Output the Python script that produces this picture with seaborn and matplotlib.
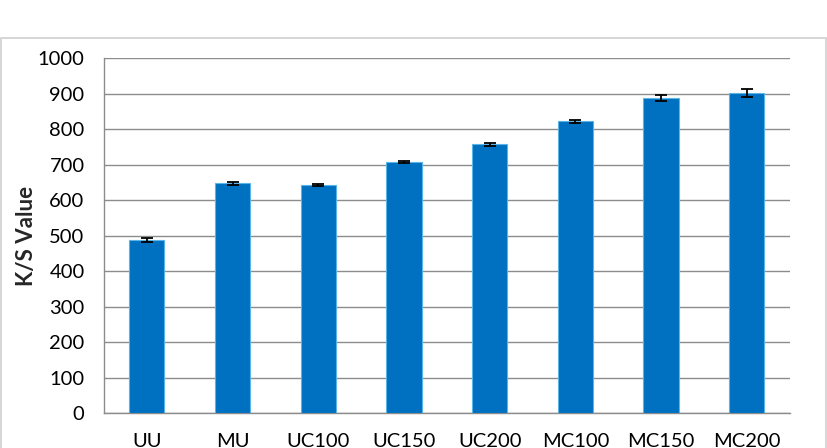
import matplotlib
matplotlib.use("Agg")
import matplotlib.pyplot as plt
import seaborn as sns
import pandas as pd
from matplotlib.patches import Rectangle

categories = ["UU", "MU", "UC100", "UC150", "UC200", "MC100", "MC150", "MC200"]
values = [487, 647, 643, 708, 757, 822, 888, 901]
errors = [6, 4, 3, 3, 4, 4, 9, 12]
yticks = [0, 100, 200, 300, 400, 500, 600, 700, 800, 900, 1000]

sns.set_theme(style="white")
plt.rcParams['font.family'] = ['Lato', 'DejaVu Sans']

df = pd.DataFrame({"cat": categories, "val": values})

fig = plt.figure(figsize=(8.28, 4.48), dpi=100)
fig.patches.append(Rectangle((0.001, -0.05), 0.996, 0.965, transform=fig.transFigure,
                             fill=False, edgecolor="#d0d0d0", linewidth=1.2))
ax = fig.add_axes([0.1256, 0.078, 0.828, 0.7925])

sns.barplot(data=df, x="cat", y="val", color="#0070C0", saturation=1, width=0.41,
            edgecolor="#5bb4e8", linewidth=0.8, errorbar=None, ax=ax, zorder=3)
ax.errorbar(x=list(range(len(categories))), y=values, yerr=errors, fmt="none",
            ecolor="black", elinewidth=1.3, capsize=4, capthick=1.3, zorder=4)

ax.set_ylim(0, 1000)
ax.set_yticks(yticks)
ax.set_xlim(-0.5, len(categories) - 0.5)
ax.yaxis.grid(True, color="#8c8c8c", linewidth=1.0, zorder=0)
ax.set_axisbelow(True)
for s in ["top", "right"]:
    ax.spines[s].set_visible(False)
for s in ["left", "bottom"]:
    ax.spines[s].set_color("#8c8c8c")
    ax.spines[s].set_linewidth(1.0)
ax.tick_params(axis="y", length=0, pad=14, labelsize=14.5, labelcolor="black")
ax.tick_params(axis="x", length=0, pad=14, labelsize=14.5, labelcolor="black")
ax.set_xlabel("")
ax.set_ylabel("K/S Value", fontsize=16, fontweight="bold")
ax.yaxis.set_label_coords(-0.098, 0.5)

fig.savefig("out.png", dpi=100)
